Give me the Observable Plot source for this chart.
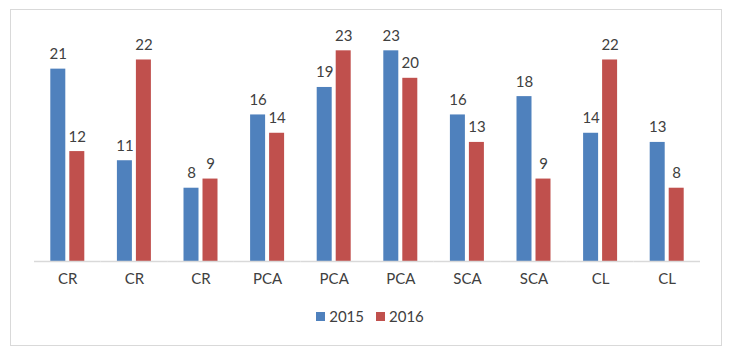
<!DOCTYPE html>
<html><head><meta charset="utf-8">
<script src="https://cdn.jsdelivr.net/npm/d3@7"></script>
<script src="https://cdn.jsdelivr.net/npm/@observablehq/plot@0.6"></script>
<style>
body{margin:0;background:#fff;font-family:Lato,sans-serif;}
#wrap{position:relative;width:731px;height:352px;overflow:hidden;}
#frame{position:absolute;left:10px;top:9px;width:712px;height:337px;box-sizing:border-box;border:1px solid #d9d9d9;}
#chart{position:absolute;left:0;top:0;}
#legend{position:absolute;top:307px;left:0;width:740px;display:flex;justify-content:center;gap:12px;font-size:15px;color:#404040;}
#legend span.item{display:flex;align-items:center;}
#legend span.sw{display:inline-block;width:9px;height:9px;margin-right:4px;}
</style></head>
<body>
<div id="wrap"><div id="frame"></div><div id="chart"></div><div id="legend"></div></div>
<script>
const labels = ["CR","CR","CR","PCA","PCA","PCA","SCA","SCA","CL","CL"];
const series = ["2015","2016"];
const v2015 = [21,11,8,16,19,23,16,18,14,13];
const v2016 = [12,22,9,14,23,20,13,9,22,8];
const colors = ["#4F81BD","#C0504D"];

const values = [v2015, v2016];
const data = [];
labels.forEach((l,i)=>series.forEach((s,k)=>data.push({i, label:l, year:s, value:values[k][i]})));

const chart = Plot.plot({
  width:731, height:290,
  marginLeft:34, marginRight:31, marginTop:32, marginBottom:29,
  style:{fontFamily:"Lato, sans-serif", fontSize:"15px", color:"#404040", background:"transparent"},
  fx:{domain:d3.range(labels.length), padding:0, round:false, tickFormat:i=>labels[i], axis:"bottom", tickSize:0, tickPadding:12, label:null},
  x:{domain:series, paddingInner:4/19, paddingOuter:0.858, round:false, axis:null},
  y:{domain:[0,25], axis:null},
  color:{domain:series, range:colors},
  marks:[
    Plot.barY(data,{fx:"i", x:"year", y:"value", fill:"year"}),
    Plot.text(data,{fx:"i", x:"year", y:"value", text:"value", dy:-10, lineAnchor:"bottom", fill:"#404040"}),
    Plot.ruleY([0],{stroke:"#d9d9d9", strokeWidth:1.5})
  ]
});
document.getElementById("chart").appendChild(chart);

const leg = document.getElementById("legend");
series.forEach((s,k)=>{
  const it = document.createElement("span"); it.className="item";
  const sw = document.createElement("span"); sw.className="sw"; sw.style.background=colors[k];
  it.appendChild(sw); it.appendChild(document.createTextNode(s));
  leg.appendChild(it);
});
</script>
</body></html>
